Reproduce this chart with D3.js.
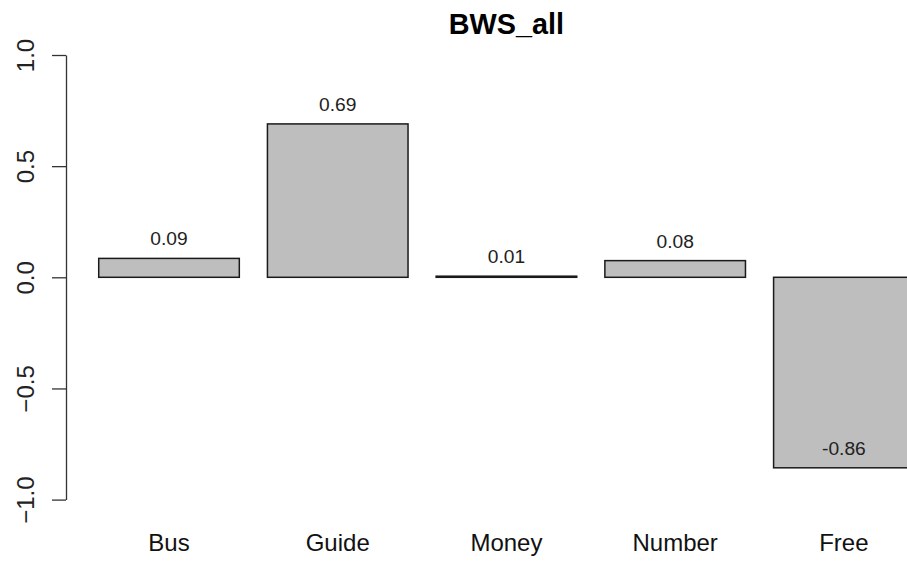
<!DOCTYPE html>
<html>
<head>
<meta charset="utf-8">
<script src="https://cdn.jsdelivr.net/npm/d3@7"></script>
<style>
  html, body { margin: 0; padding: 0; background: #fff; }
  svg { display: block; font-family: "Liberation Sans", Arial, Helvetica, sans-serif; }
</style>
</head>
<body>
<svg id="chart" width="907" height="561"></svg>
<script>
const title = "BWS_all";
const categories = ["Bus", "Guide", "Money", "Number", "Free"];
const values = [0.085, 0.69, 0.005, 0.075, -0.857];
const valueLabels = ["0.09", "0.69", "0.01", "0.08", "-0.86"];
const yTicks = [-1.0, -0.5, 0.0, 0.5, 1.0];

const svg = d3.select("#chart");

// R barplot geometry: bars of width 1 separated by 0.2
const x = d3.scaleLinear().domain([-0.032, 6.232]).range([66.1, 946.8]);
const y = d3.scaleLinear().domain([-1, 1]).range([499.6, 55]);

const barLeft = i => 0.2 + 1.2 * i;
const barMid = i => 0.7 + 1.2 * i;

// bars
svg.append("g").selectAll("rect")
  .data(values)
  .join("rect")
  .attr("x", (d, i) => x(barLeft(i)))
  .attr("width", x(1) - x(0))
  .attr("y", d => y(Math.max(0, d)))
  .attr("height", d => Math.abs(y(d) - y(0)))
  .attr("fill", "#bebebe")
  .attr("stroke", "#1a1a1a")
  .attr("stroke-width", 1.5);

// value labels
svg.append("g").selectAll("text")
  .data(values)
  .join("text")
  .attr("x", (d, i) => x(barMid(i)))
  .attr("y", d => y(d + 0.09) + 6.9)
  .attr("text-anchor", "middle")
  .attr("font-size", 19.2)
  .attr("fill", "#222")
  .text((d, i) => valueLabels[i]);

// category names
svg.append("g").selectAll("text")
  .data(categories)
  .join("text")
  .attr("x", (d, i) => x(barMid(i)))
  .attr("y", 551.3)
  .attr("text-anchor", "middle")
  .attr("font-size", 24)
  .attr("fill", "#111")
  .text(d => d);

// y axis
const yAxis = d3.axisLeft(y)
  .tickValues(yTicks)
  .tickSize(14)
  .tickSizeOuter(0)
  .tickFormat(d3.format(".1f"));

const gy = svg.append("g")
  .attr("transform", "translate(66,0)")
  .call(yAxis);
gy.select(".domain").attr("stroke", "#333").attr("stroke-width", 1.3);
gy.selectAll(".tick line").attr("stroke", "#333").attr("stroke-width", 1.3);
gy.selectAll(".tick text")
  .attr("font-size", 24)
  .attr("font-family", "'Liberation Sans', Arial, sans-serif")
  .attr("fill", "#222")
  .attr("text-anchor", "middle")
  .attr("x", null)
  .attr("dy", null)
  .attr("transform", "translate(-32,0) rotate(-90)")
  .attr("y", 0);

// title
svg.append("text")
  .attr("x", (x(-0.032) + x(6.232)) / 2)
  .attr("y", 34)
  .attr("text-anchor", "middle")
  .attr("font-size", 28.8)
  .attr("font-weight", "bold")
  .attr("fill", "#000")
  .text(title);
</script>
</body>
</html>
